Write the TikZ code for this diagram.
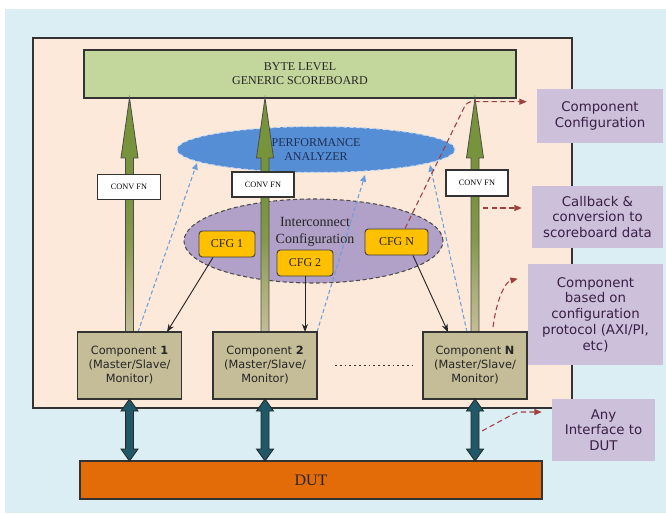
\documentclass[tikz,border=0pt]{standalone}
\usepackage{fontspec}
\setmainfont{Liberation Serif}
\newfontfamily\vfont{DejaVu Sans}
\usetikzlibrary{calc,shapes.geometric,arrows.meta}
\definecolor{bgblue}{HTML}{DAEEF3}
\definecolor{peach}{HTML}{FDE9D9}
\definecolor{sbgreen}{HTML}{C3D69B}
\definecolor{perfblue}{HTML}{558ED5}
\definecolor{icpurple}{HTML}{B1A0C7}
\definecolor{cfgyellow}{HTML}{FFC000}
\definecolor{comptan}{HTML}{C4BD97}
\definecolor{notepurple}{HTML}{CCC0DA}
\definecolor{dutorange}{HTML}{E36C09}
\definecolor{tealarrow}{HTML}{215868}
\definecolor{olivec}{HTML}{77933C}
\definecolor{tanc}{HTML}{C4BD97}
\definecolor{bluedash}{HTML}{6A9FDB}
\definecolor{reddash}{HTML}{A0403E}
\definecolor{notetext}{HTML}{3B1F47}
\definecolor{perftext}{HTML}{1F2F55}
\pgfdeclareverticalshading{greenshade}{100bp}{color(0bp)=(tanc); color(25bp)=(tanc); color(33bp)=(tanc!70!olivec); color(45bp)=(olivec!85!tanc); color(55bp)=(olivec); color(100bp)=(olivec)}
\pgfdeclarelayer{bg}
\pgfdeclarelayer{mid}
\pgfsetlayers{bg,mid,main}
\newcommand\mkGreenArrow[2]{%
  \shadedraw[shading=greenshade,draw=black!70,line width=0.6pt] let \p1=(#1.north), \p2=(#2.south) in
  (\x1-3pt,\y1) -- (\x1-3pt,\y2-45pt) -- (\x1-6.4pt,\y2-45pt) -- (\x1,\y2) -- (\x1+6.4pt,\y2-45pt) -- (\x1+3pt,\y2-45pt) -- (\x1+3pt,\y1) -- cycle;}
\newcommand\mkTealArrow[2]{%
  \filldraw[fill=tealarrow,draw=black!85,line width=0.6pt] let \p1=(#1.south), \p2=(#2.north) in
  (\x1,\y1) -- (\x1+6.4pt,\y1-9pt) -- (\x1+3pt,\y1-9pt) -- (\x1+3pt,\y2+9pt) -- (\x1+6.4pt,\y2+9pt) -- (\x1,\y2) -- (\x1-6.4pt,\y2+9pt) -- (\x1-3pt,\y2+9pt) -- (\x1-3pt,\y1-9pt) -- (\x1-6.4pt,\y1-9pt) -- cycle;}
\begin{document}
\begin{tikzpicture}[x=0.75pt, y=-0.75pt,
  plainbox/.style={draw=black!80, line width=0.8pt, inner sep=0pt, outer sep=0pt},
  sbbox/.style={plainbox, fill=sbgreen, minimum width=324pt, minimum height=36pt, align=center, text=black!85, font=\fontsize{9}{10.5}\selectfont},
  convbox/.style={plainbox, fill=white, minimum width=47pt, minimum height=18.5pt, font=\fontsize{6.2}{7}\selectfont},
  cfgbox/.style={draw=black!75, line width=0.7pt, rounded corners=2.5pt, fill=cfgyellow, minimum height=19.5pt, inner sep=0pt, text=black!85, font=\fontsize{9}{10}\selectfont},
  compbox/.style={plainbox, fill=comptan, minimum width=78pt, minimum height=50.25pt, align=center, text=black!85, font=\vfont\fontsize{8.5}{10.5}\selectfont},
  notebox/.style={fill=notepurple, inner sep=0pt, align=center, text=notetext, font=\vfont\fontsize{10}{11.8}\selectfont},
  bluearrow/.style={bluedash, line width=0.8pt, dash pattern=on 3pt off 2pt, -{Triangle[length=5pt,width=4.5pt]}},
  redarrow/.style={reddash, line width=0.8pt, dash pattern=on 4pt off 2.5pt, -{Triangle[length=5.5pt,width=4.5pt]}},
  blackarrow/.style={black!85, line width=0.7pt, -{Stealth[length=6pt,width=4.5pt]}}]
\useasboundingbox (0,0) rectangle (666,513);
\begin{pgfonlayer}{bg}
  \fill[white] (0,0) rectangle (666,513);
  \fill[bgblue] (5,9) rectangle (666,513);
  \node[plainbox, fill=peach, minimum width=404.25pt, minimum height=277.5pt] (frame) at (302.5,223) {};
  \node[sbbox] (sb) at (300,74) {BYTE LEVEL\\GENERIC SCOREBOARD};
  \node[ellipse, fill=perfblue, draw=white!70!perfblue, dash pattern=on 3pt off 2pt, line width=0.8pt, minimum width=208.5pt, minimum height=34.5pt, inner sep=0pt, align=center, text=perftext, font=\fontsize{9}{9.8}\selectfont] (perf) at (316,149.5) {PERFORMANCE\\ANALYZER};
  \node[ellipse, fill=icpurple, draw=black!70, dash pattern=on 3pt off 2pt, line width=0.8pt, minimum width=194.25pt, minimum height=63pt, inner sep=0pt] (ic) at (313.5,241) {};
  \node[align=center, font=\fontsize{10.5}{13}\selectfont, text=black!85] (ictext) at (315,232) {Interconnect\\Configuration};
\end{pgfonlayer}

% main layer nodes
\node[convbox] (conv1) at (129,187) {CONV FN};
\node[convbox, minimum width=46.5pt, minimum height=18.75pt] (conv2) at (263,184.5) {CONV FN};
\node[convbox, minimum width=46.5pt, minimum height=19.5pt] (convN) at (477,183) {CONV FN};
\node[cfgbox, minimum width=42pt] (cfg1) at (227,244) {CFG 1};
\node[cfgbox, minimum width=42pt] (cfg2) at (305,263) {CFG 2};
\node[cfgbox, minimum width=47.25pt] (cfgN) at (396.5,242) {CFG N};
\node[compbox] (c1) at (129.5,365.5) {Component \textbf{1}\\(Master/Slave/\\Monitor)};
\node[compbox] (c2) at (265,365.5) {Component \textbf{2}\\(Master/Slave/\\Monitor)};
\node[compbox] (cN) at (475,365.5) {Component \textbf{N}\\(Master/Slave/\\Monitor)};
\node[plainbox, fill=dutorange, minimum width=346.5pt, minimum height=28.5pt, font=\fontsize{12}{14}\selectfont, text=black!85] (dut) at (311,480) {DUT};
\node[notebox, minimum width=94.5pt, minimum height=40.5pt] (pc1) at (600,116) {Component\\Configuration};
\node[notebox, minimum width=98.25pt, minimum height=46.5pt] (pc2) at (597.5,217) {Callback \&\\conversion to\\scoreboard data};
\node[notebox, minimum width=101.25pt, minimum height=75.75pt] (pc3) at (595.5,314.5) {Component\\based on\\configuration\\protocol (AXI/PI,\\etc)};
\node[notebox, minimum width=77.25pt, minimum height=46.5pt] (pc4) at (603.5,430) {Any\\Interface to\\DUT};

% teal double arrows
\mkTealArrow{c1}{dut}
\mkTealArrow{c2}{dut}
\mkTealArrow{cN}{dut}

% black arrows
\draw[blackarrow] ($(cfg1.south)+(-14,0)$) -- ($(c1.north)+(37.5,0)$);
\draw[blackarrow] (cfg2.south) -- (cfg2.south |- c2.north);
\draw[blackarrow] ($(cfgN.south)+(16.5,0)$) -- ($(cN.north)+(-27,0)$);

% dotted separator
\draw[black!80, line width=1.4pt, dash pattern=on 1.4pt off 2.2pt] ($(c2.east)+(18,0)$) -- ($(cN.west)+(-11,0)$);

\begin{pgfonlayer}{mid}
  \mkGreenArrow{c1}{sb}
  \mkGreenArrow{c2}{sb}
  \mkGreenArrow{cN}{sb}
  \draw[bluearrow] ($(c1.north)+(8.5,0)$) -- ($(perf.center)+(-119,13.5)$);
  \draw[bluearrow] (c2.north east) -- ($(perf.center)+(49,25.5)$);
  \draw[bluearrow] ($(cN.north)+(-8,0)$) -- ($(perf.center)+(114,15.5)$);
  \draw[redarrow, rounded corners=4pt] ($(cfgN.north)+(8.5,0)$) -- ++(62,-127) -- ($(pc1.north west)+(-10,13)$);
  \draw[redarrow] ($(convN.south)+(6,12)$) -- ($(pc2.west)+(-10,-9)$);
  \draw[redarrow] ($(cN.north east)+(-34,-5)$) .. controls +(4,-30) and +(-12,3) .. ($(pc3.north west)+(-10,15)$);
  \draw[redarrow, rounded corners=3pt] ($(cN.south)+(7,32)$) -- ++(35,-19) -- ($(pc4.west)+(-10,-18)$);
\end{pgfonlayer}
\end{tikzpicture}
\end{document}
